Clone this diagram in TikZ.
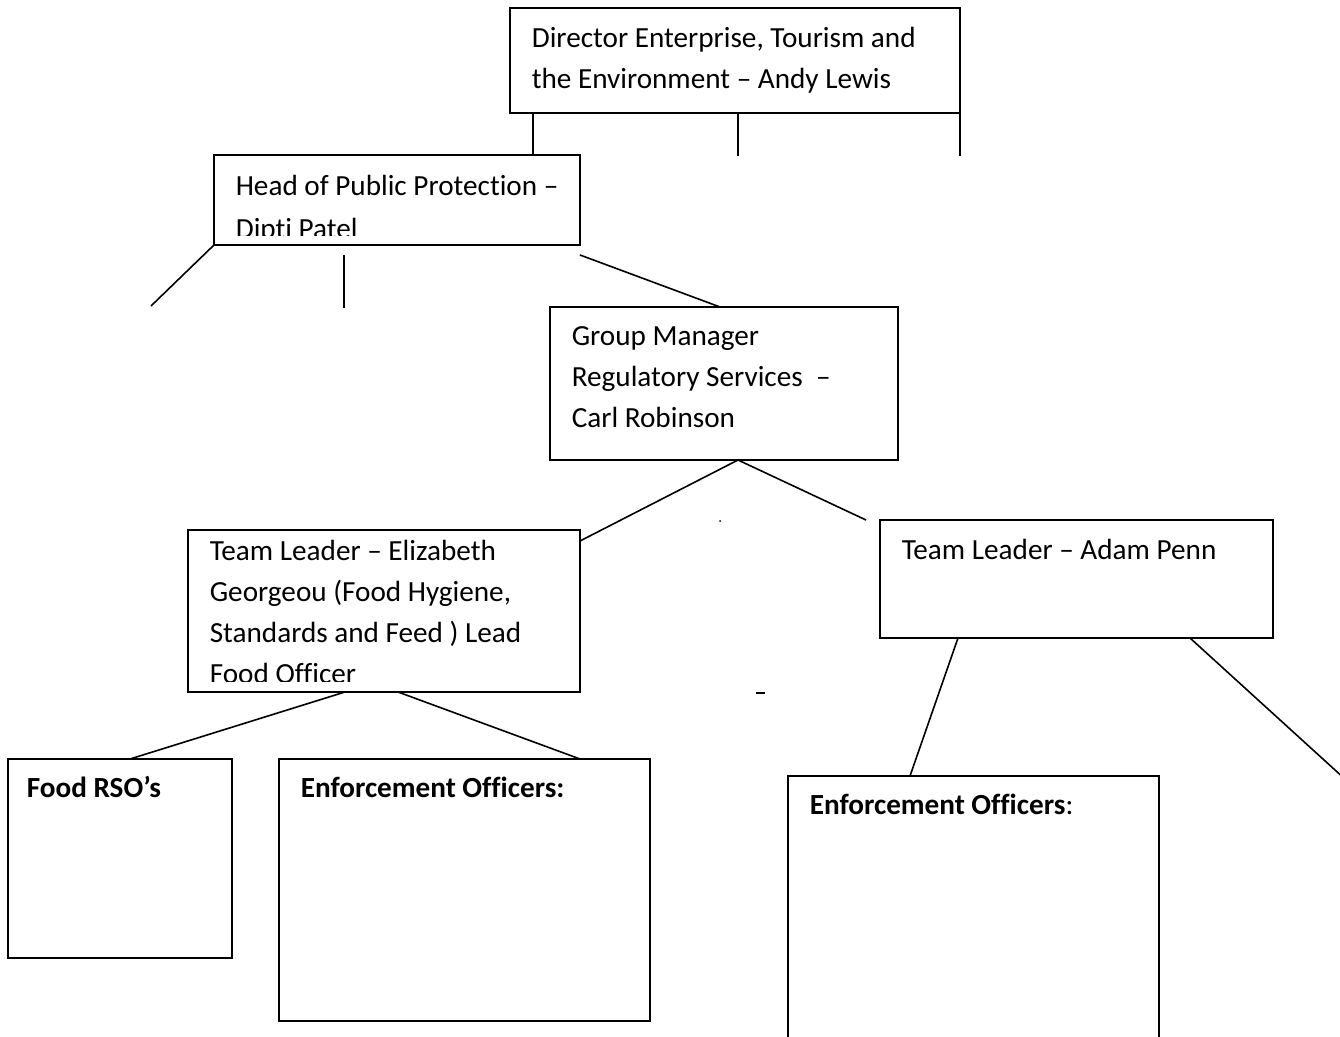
\documentclass[tikz,border=0pt]{standalone}
\usepackage{fontspec}
\setmainfont{Carlito}[Ligatures=CommonOff]
\usepackage{tikz}

\begin{document}
\begin{tikzpicture}[x=1pt,y=1pt,line width=0.8pt]
		\tikzstyle{box}=[rectangle, draw=black, line width=0.8pt, anchor=north west, inner sep=0pt, outer sep=0pt]
		\tikzstyle{boxtext}=[anchor=north west, inner sep=0pt, align=left, font=\fontsize{14.6}{20.5}\selectfont]
		\useasboundingbox (0,0) rectangle (670,-518.5);

		\node [box, minimum width=225pt, minimum height=52.5pt] (dir) at (255,-4) {};
		\node [boxtext] (dirtext) at (265.5,-9.15) {\strut Director Enterprise, Tourism and\\the Environment – Andy Lewis};

		\node [box, minimum width=183pt, minimum height=45pt] (head) at (107,-77.5) {};
		\begin{scope}
			\clip (head.north west) rectangle ([yshift=4.75pt]head.south east);
			\node [boxtext] (headtext) at (117.5,-83.15) {\strut Head of Public Protection –\\[0.8pt]Dipti Patel};
		\end{scope}

		\node [box, minimum width=174pt, minimum height=76.5pt] (group) at (275,-153.5) {};
		\node [boxtext] (grouptext) at (285.5,-158.15) {\strut Group Manager\\Regulatory Services~ –\\Carl Robinson};

		\node [box, minimum width=196pt, minimum height=81pt] (lead1) at (94,-265) {};
		\begin{scope}
			\clip (lead1.north west) rectangle ([yshift=5pt]lead1.south east);
			\node [boxtext] (lead1text) at (104.5,-265.65) {\strut Team Leader – Elizabeth\\Georgeou (Food Hygiene,\\Standards and Feed ) Lead\\Food Officer};
		\end{scope}

		\node [box, minimum width=196.5pt, minimum height=59pt] (lead2) at (440,-260) {};
		\node [boxtext] (lead2text) at (450.5,-265.15) {\strut Team Leader – Adam Penn};

		\node [box, minimum width=112pt, minimum height=99.5pt] (rso) at (4,-379.5) {};
		\node [boxtext] (rsotext) at (13,-384.15) {\strut\bfseries Food RSO’s};

		\node [box, minimum width=185.5pt, minimum height=131pt] (enf1) at (139.5,-379.5) {};
		\node [boxtext] (enf1text) at (150,-384.15) {\strut\bfseries Enforcement Officers:};

		\node [box, minimum width=185.5pt, minimum height=150pt] (enf2) at (394,-388) {};
		\node [boxtext] (enf2text) at (404.5,-392.65) {\strut{\bfseries Enforcement Officers}:};

		\coordinate (dirmid) at ([xshift=114pt,yshift=-21.5pt]dir.south west);
		\coordinate (dirright) at ([yshift=-21.5pt]dir.south east);
		\coordinate (headleft) at ([xshift=-31.5pt,yshift=-30.5pt]head.south west);
		\coordinate (headmid) at ([xshift=65pt,yshift=-31.5pt]head.south west);
		\coordinate (lead2right) at (673,-390);

		\draw ([xshift=11.5pt]dir.south west) -- ([xshift=159.5pt]head.north west);
		\draw ([xshift=114pt]dir.south west) -- (dirmid);
		\draw (dir.south east) -- (dirright);
		\draw (head.south west) -- (headleft);
		\draw ([xshift=65pt,yshift=-5pt]head.south west) -- (headmid);
		\draw ([yshift=-5pt]head.south east) -- ([xshift=85pt]group.north west);
		\draw ([xshift=94pt]group.south west) -- ([yshift=-5.5pt]lead1.north east);
		\draw ([xshift=94pt]group.south west) -- ([xshift=-7pt]lead2.north west);
		\draw ([xshift=78.5pt]lead1.south west) -- ([xshift=61pt]rso.north west);
		\draw ([xshift=105pt]lead1.south west) -- ([xshift=150.5pt]enf1.north west);
		\draw ([xshift=39pt]lead2.south west) -- ([xshift=61pt]enf2.north west);
		\draw ([xshift=155pt]lead2.south west) -- (lead2right);

		\fill (360,-260.5) circle (0.5pt);
		\draw (378,-346.5) -- (382.5,-346.5);
	\end{tikzpicture}
\end{document}
